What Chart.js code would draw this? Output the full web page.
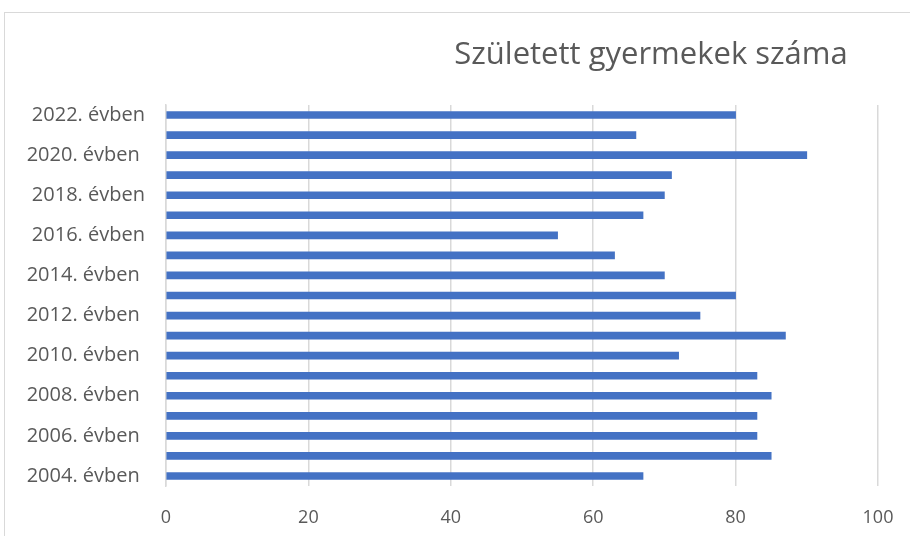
<!DOCTYPE html>
<html>
<head>
<meta charset="utf-8">
<script src="https://cdn.jsdelivr.net/npm/chart.js@4"></script>
<style>
  html, body { margin: 0; padding: 0; background: #fff; overflow: hidden; }
  #frame { position: absolute; left: 4px; top: 12px; width: 1000px; height: 1000px; border: 1px solid #d9d9d9; }
  #wrap { position: absolute; left: 0; top: 0; width: 910px; height: 536px; }
</style>
</head>
<body>
<div id="frame"></div>
<div id="wrap"><canvas id="chart"></canvas></div>
<script>
// years bottom -> top
const years = ["2004. évben ", "2005. évben", "2006. évben ", "2007. évben", "2008. évben ",
    "2009. évben", "2010. évben ", "2011. évben", "2012. évben ", "2013. évben",
    "2014. évben ", "2015. évben", "2016. évben", "2017. évben", "2018. évben",
    "2019. évben", "2020. évben ", "2021. évben", "2022. évben"];
const births = [67, 85, 83, 83, 85, 83, 72, 87, 75, 80, 70, 63, 55, 67, 70, 71, 90, 66, 80];
const chartTitle = "Született gyermekek száma";
const xTicks = [0, 20, 40, 60, 80, 100];

const grey = "#595959";
const gridGrey = "#d9d9d9";

const titlePlugin = {
    id: "sideTitle",
    afterDraw(chart) {
        const ctx = chart.ctx;
        ctx.save();
        ctx.font = "31px 'Open Sans'";
        ctx.fillStyle = grey;
        ctx.textAlign = "center";
        ctx.textBaseline = "alphabetic";
        ctx.fillText(chartTitle, 651, 64);
        ctx.restore();
    }
};

new Chart(document.getElementById("chart"), {
    type: "bar",
    data: {
        labels: years,
        datasets: [{
            label: chartTitle,
            data: births,
            backgroundColor: "#4472C4",
            barThickness: 7
        }]
    },
    options: {
        indexAxis: "y",
        responsive: true,
        maintainAspectRatio: false,
        animation: false,
        layout: { padding: { top: 105, right: 32, bottom: 0, left: 0 } },
        plugins: {
            legend: { display: false },
            tooltip: { enabled: false }
        },
        scales: {
            x: {
                min: 0,
                max: 100,
                afterBuildTicks: scale => { scale.ticks = xTicks.map(v => ({ value: v })); },
                afterFit: scale => {
                    scale.height = 50;
                    scale.paddingLeft = 0;
                    scale.paddingRight = 0;
                },
                grid: { color: gridGrey, lineWidth: 1.5, drawTicks: false },
                border: { display: false },
                ticks: { color: grey, padding: 21, font: { family: "Open Sans", size: 18 } }
            },
            y: {
                reverse: true,
                afterFit: scale => { scale.width = 166; },
                grid: { display: false, drawTicks: false },
                border: { display: true, color: gridGrey, width: 1.5 },
                ticks: {
                    autoSkip: false,
                    color: grey,
                    padding: 21,
                    font: { family: "Open Sans", size: 20 },
                    callback: function (v, i) { return i % 2 === 0 ? this.getLabelForValue(v) : ""; }
                }
            }
        }
    },
    plugins: [titlePlugin]
});
</script>
</body>
</html>
